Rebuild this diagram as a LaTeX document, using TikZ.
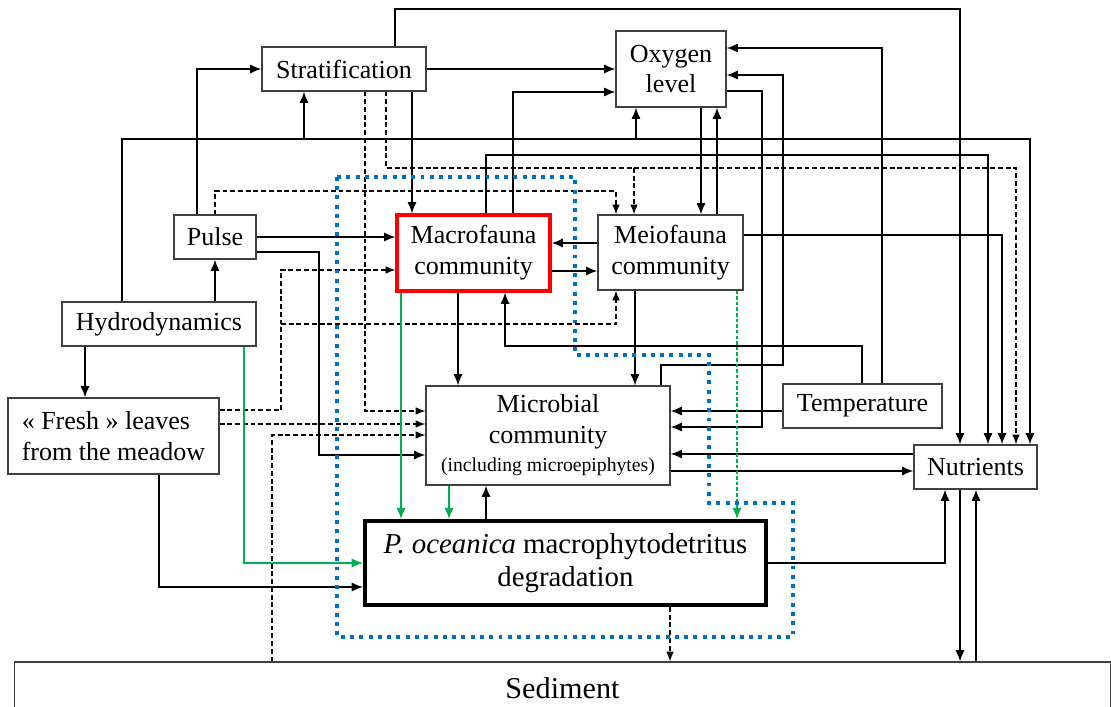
\documentclass[tikz,border=0pt]{standalone}
\usepackage{fontspec}
\setmainfont{Liberation Serif}
\usetikzlibrary{arrows.meta}
\definecolor{msblue}{RGB}{0,112,192}
\definecolor{msgreen}{RGB}{0,176,80}
\begin{document}
\begin{tikzpicture}[x=0.025cm,y=-0.025cm,
    box/.style={draw=black!75,line width=0.8pt,inner sep=0pt,align=center,
      font=\fontsize{18.5}{22}\selectfont},
    arr/.style={line width=1.1pt,-{Latex[length=8pt,width=6.5pt]}},
    darr/.style={line width=0.9pt,dash pattern=on 3.5pt off 2pt,-{Latex[length=7pt,width=5.5pt]}},
    garr/.style={msgreen,line width=1pt,-{Latex[length=8pt,width=6.5pt]}},
    gdarr/.style={garr,line width=0.8pt,dash pattern=on 2.5pt off 1.5pt},
    zone/.style={msblue,line width=2.8pt,dash pattern=on 2.8pt off 3.8pt}]
      \useasboundingbox (0,0) rectangle (1111,707);
      \clip (0,0) rectangle (1111,707);

      \node[box,minimum width=4.1cm,minimum height=1.1cm] (strat) at (344,69) {Stratification};
      \node[box,minimum width=2.75cm,minimum height=1.9cm] (oxy) at (671,69) {Oxygen\\level};
      \node[box,minimum width=2.05cm,minimum height=1.1cm] (pulse) at (215,237) {Pulse};
      \node[box,minimum width=4.85cm,minimum height=1.1cm] (hydro) at (159,324) {Hydrodynamics};
      \node[box,minimum width=5.275cm,minimum height=1.9cm,align=left] (fresh) at (113.5,436) {« Fresh » leaves\\from the meadow};
      \node[box,draw=red,line width=2.2pt,minimum width=3.825cm,minimum height=1.9cm] (macro) at (473.5,253) {Macrofauna\\community};
      \node[box,minimum width=3.625cm,minimum height=1.875cm] (meio) at (670.5,252.5) {Meiofauna\\community};
      \node[box,minimum width=6.1cm,minimum height=2.475cm] (micro) at (548,435.5) {Microbial\\community\\[-2pt]{\fontsize{14}{16}\selectfont (including microepiphytes)}};
      \node[box,minimum width=3.975cm,minimum height=1.1cm] (temp) at (862.5,406) {Temperature};
      \node[box,minimum width=3.075cm,minimum height=1.1cm] (nutr) at (975.5,467) {Nutrients};
      \node[box,draw=black,line width=2.8pt,minimum width=10.025cm,minimum height=2.1cm,
        font=\fontsize{20.5}{23}\selectfont] (pocean) at (565.5,563) {\textit{P. oceanica} macrophytodetritus\\degradation};
      \node[box,minimum width=27.375cm,minimum height=1.3cm,
        font=\fontsize{21.5}{24}\selectfont] (sed) at (562.5,688) {Sediment};

      \coordinate (hstrat) at (304,139);
      \coordinate (hoxy) at (636,139);
      \coordinate (dmeio) at (634,168);
      \coordinate (fmeio) at (281,324);

      \draw[arr] (strat.north -| 395,0) |- (960,9) -- (nutr.north -| 960,0);
      \draw[arr] (strat.east) -- (oxy.west);
      \draw[arr] (strat.south -| 412,0) -- (macro.north -| 412,0);
      \draw[arr] (macro.north -| 513,0) |- (oxy.west |- 0,92);
      \draw[arr] (temp.north -| 882,0) |- (oxy.east |- 0,48);
      \draw[arr] (micro.north -| 661,0) |- (783,365) |- (oxy.east |- 0,75);
      \draw[arr] (oxy.east |- 0,91) -| (762,427) -- (micro.east |- 0,427);
      \draw[arr] (temp.west |- 0,411) -- (micro.east |- 0,411);
      \draw[arr] (temp.north -| 862,0) |- (505,346) -- (macro.south -| 505,0);
      \draw[arr] (hydro.north -| 122,0) |- (1030,139) -- (nutr.north -| 1030,0);
      \draw[arr] (hstrat) -- (strat.south -| hstrat);
      \draw[arr] (hoxy) -- (oxy.south -| hoxy);
      \draw[arr] (oxy.south -| 701,0) -- (meio.north -| 701,0);
      \draw[arr] (meio.north -| 717,0) -- (oxy.south -| 717,0);
      \draw[arr] (macro.north -| 486,0) |- (988,155) -- (nutr.north -| 988,0);
      \draw[arr] (pulse.north -| 197,0) |- (strat.west);
      \draw[arr] (pulse.east) -- (macro.west |- pulse.east);
      \draw[arr] (pulse.east |- 0,252) -| (319,455) -- (micro.west |- 0,455);
      \draw[arr] (hydro.north -| pulse.south) -- (pulse.south);
      \draw[arr] (hydro.south -| 85,0) -- (fresh.north -| 85,0);
      \draw[arr] (fresh.south -| 159,0) |- (pocean.west |- 0,587);
      \draw[arr] (meio.west |- 0,243) -- (macro.east |- 0,243);
      \draw[arr] (macro.east |- 0,271) -- (meio.west |- 0,271);
      \draw[arr] (macro.south -| 458,0) -- (micro.north -| 458,0);
      \draw[arr] (meio.south -| 635,0) -- (micro.north -| 635,0);
      \draw[arr] (pocean.north -| 486,0) -- (micro.south -| 486,0);
      \draw[arr] (pocean.east) -| (nutr.south -| 945,0);
      \draw[arr] (nutr.south -| 960,0) -- (sed.north -| 960,0);
      \draw[arr] (sed.north -| 976,0) -- (nutr.south -| 976,0);
      \draw[arr] (nutr.west |- 0,454) -- (micro.east |- 0,454);
      \draw[arr] (micro.east |- 0,471) -- (nutr.west |- 0,471);
      \draw[arr] (meio.east |- 0,235) -| (nutr.north -| 1002,0);

      \draw[darr] (strat.south -| 365,0) |- (micro.west |- 0,411);
      \draw[darr] (strat.south -| 386,0) |- (1016,168) -- (nutr.north -| 1016,0);
      \draw[darr] (dmeio) -- (meio.north -| dmeio);
      \draw[darr] (pulse.north) |- (616,191) -- (meio.north -| 616,0);
      \draw[darr] (fresh.east |- 0,410) -| (281,270) -- (macro.west |- 0,270);
      \draw[darr] (fmeio) -| (meio.south -| 616,0);
      \draw[darr] (fresh.east |- 0,424) -- (micro.west |- 0,424);
      \draw[darr] (sed.north -| 272,0) |- (micro.west |- 0,435);
      \draw[darr] (pocean.south -| 670,0) -- (sed.north -| 670,0);

      \draw[garr] (hydro.south -| 244,0) |- (pocean.west);
      \draw[garr] (macro.south -| 401,0) -- (pocean.north -| 401,0);
      \draw[garr] (micro.south -| 449,0) -- (pocean.north -| 449,0);
      \draw[gdarr] (meio.south -| 737,0) -- (pocean.north -| 737,0);

      \draw[zone] (337,177) -- (575,177) -- (575,355) -- (709,355) -- (709,503)
        -- (793,503) -- (793,637) -- (337,637) -- cycle;
    \end{tikzpicture}
\end{document}
